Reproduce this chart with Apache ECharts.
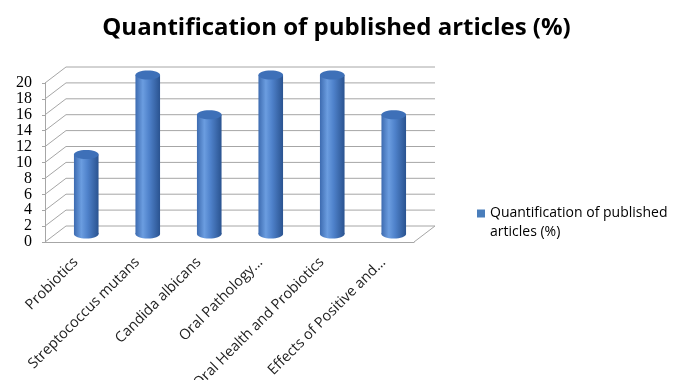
<!DOCTYPE html>
<html>
<head>
<meta charset="utf-8">
<script src="https://cdn.jsdelivr.net/npm/echarts@6/dist/echarts.min.js"></script>
<style>
  html, body { margin: 0; padding: 0; background: #fff; }
  #chart { width: 673px; height: 380px; }
</style>
</head>
<body>
<div id="chart"></div>
<script>
var categories = ['Probiotics', 'Streptococcus mutans', 'Candida albicans', 'Oral Pathology…', 'Oral Health and Probiotics', 'Effects of Positive and…'];
var values = [10, 20, 15, 20, 20, 15];
var yTicks = [0, 2, 4, 6, 8, 10, 12, 14, 16, 18, 20];
var seriesName = 'Quantification of published articles (%)';

var chartDom = document.getElementById('chart');
var myChart = echarts.init(chartDom, null, { renderer: 'canvas' });

// depth offset of the fake 3d box
var DX = 21, DY = 16;
var gridColor = '#a6a6a6';

function renderWalls(params, api) {
    var cs = params.coordSys;
    var v = api.value(0);
    var y = api.coord([0, v])[1];
    var left = cs.x, right = cs.x + cs.width;
    var children = [
        // side wall diagonal
        { type: 'line', shape: { x1: left, y1: y, x2: left + DX, y2: y - DY }, style: { stroke: gridColor, lineWidth: 1 } },
        // back wall line
        { type: 'line', shape: { x1: left + DX, y1: y - DY, x2: right + DX, y2: y - DY }, style: { stroke: gridColor, lineWidth: 1 } }
    ];
    if (v === 0) {
        // floor right edge
        children.push({ type: 'line', shape: { x1: right, y1: y, x2: right + DX, y2: y - DY }, style: { stroke: gridColor, lineWidth: 1 } });
    }
    return { type: 'group', children: children };
}

function renderCylinder(params, api) {
    var idx = api.value(0);
    var top = api.coord([idx, api.value(1)]);
    var base = api.coord([idx, 0]);
    var w = api.size([1, 0])[0] * 0.4;
    var cx = top[0] + DX / 2;
    var ty = top[1] - DY / 2;
    var by = base[1] - DY / 2;
    var rx = w / 2, ry = 4.5;
    var body = new echarts.graphic.LinearGradient(0, 0, 1, 0, [
        { offset: 0, color: '#3d6bb0' },
        { offset: 0.3, color: '#6b9de0' },
        { offset: 0.55, color: '#4f82cb' },
        { offset: 1, color: '#2a5390' }
    ]);
    return {
        type: 'group',
        children: [
            { type: 'ellipse', shape: { cx: cx, cy: by, rx: rx, ry: ry }, style: { fill: body } },
            { type: 'rect', shape: { x: cx - rx, y: ty, width: w, height: by - ty }, style: { fill: body } },
            { type: 'ellipse', shape: { cx: cx, cy: ty, rx: rx, ry: ry }, style: { fill: '#3e70b8' } }
        ]
    };
}

var option = {
    backgroundColor: '#fff',
    title: {
        text: seriesName,
        left: 'center',
        top: 11,
        textStyle: { fontFamily: 'Open Sans', fontWeight: 'bold', fontSize: 24, color: '#000' }
    },
    legend: {
        left: 472,
        top: 180,
        icon: 'rect',
        itemWidth: 8,
        itemHeight: 8,
        itemGap: 5,
        // blank first line keeps the icon level with the first text line
        formatter: function () { return ' \nQuantification of published\narticles (%)'; },
        textStyle: { fontFamily: 'Open Sans', fontSize: 14, color: '#000', lineHeight: 19 },
        data: [seriesName]
    },
    grid: { left: 45, right: 259, top: 83, bottom: 138, outerBoundsMode: 'none', containLabel: false },
    xAxis: {
        type: 'category',
        data: categories,
        axisLine: { lineStyle: { color: gridColor } },
        axisTick: { length: 5, lineStyle: { color: gridColor } },
        axisLabel: { rotate: 45, interval: 0, margin: 18, fontFamily: 'Open Sans', fontSize: 14.5, color: '#222' }
    },
    yAxis: {
        type: 'value',
        min: 0,
        max: 20,
        interval: 2,
        axisLine: { show: true, lineStyle: { color: gridColor } },
        axisTick: { show: true, length: 3, lineStyle: { color: gridColor } },
        axisLabel: { margin: 13, fontFamily: 'Liberation Serif', fontSize: 16, color: '#000' },
        splitLine: { show: false }
    },
    series: [
        {
            type: 'custom',
            silent: true,
            z: 1,
            renderItem: renderWalls,
            data: yTicks.map(function (t) { return [t]; })
        },
        {
            name: seriesName,
            type: 'custom',
            z: 3,
            itemStyle: { color: '#4a7ebb' },
            renderItem: renderCylinder,
            data: values.map(function (v, i) { return [i, v]; })
        }
    ]
};

option && myChart.setOption(option);
window.addEventListener('resize', function () {
    myChart.resize();
});
</script>
</body>
</html>
